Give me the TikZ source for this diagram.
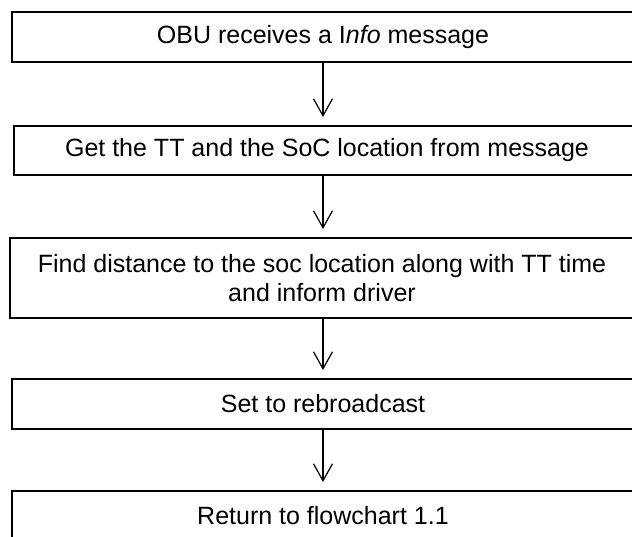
\documentclass[tikz,border=0pt]{standalone}
\usepackage{fontspec}
\setmainfont{Liberation Sans}
\usetikzlibrary{arrows.meta}
\begin{document}
\begin{tikzpicture}[x=1pt,y=-1pt,
  flowbox/.style={draw=black, line width=1.8pt, rectangle, minimum height=#1,
    align=center, font=\fontsize{25}{29}\selectfont, inner sep=0pt, anchor=north},
  flowarrow/.style={line width=1.2pt, -{Straight Barb[length=17pt,width=19pt]}}]
\clip (0,0) rectangle (632,537);
\coordinate (ax) at (323,0);
\node[flowbox=50pt, minimum width=622pt] (b1) at (323,11) {OBU receives a I\textit{nfo} message};
\node[flowbox=49pt, minimum width=626pt] (b2) at (327,125) {Get the TT and the SoC location from message};
\node[flowbox=80pt, minimum width=624pt] (b3) at (322,237) {Find distance to the soc location along with TT time\\and inform driver};
\node[flowbox=50pt, minimum width=622pt] (b4) at (323,378) {Set to rebroadcast};
\node[flowbox=50pt, minimum width=622pt] (b5) at (323,490) {Return to flowchart 1.1};
\draw[flowarrow] (b1.south -| ax) -- ([yshift=8pt]b2.north -| ax);
\draw[flowarrow] (b2.south -| ax) -- ([yshift=8pt]b3.north -| ax);
\draw[flowarrow] (b3.south -| ax) -- ([yshift=8pt]b4.north -| ax);
\draw[flowarrow] (b4.south -| ax) -- ([yshift=8pt]b5.north -| ax);
\end{tikzpicture}
\end{document}
